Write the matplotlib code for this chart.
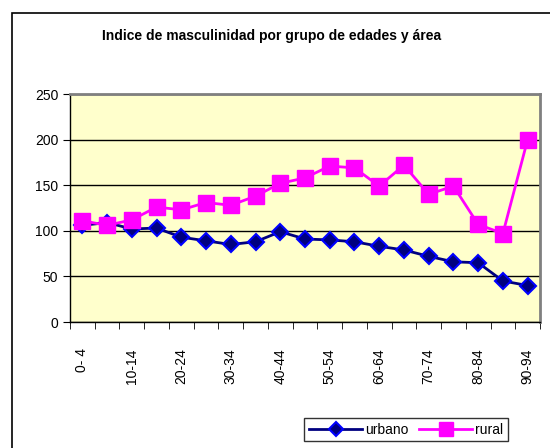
import numpy as np
import matplotlib.pyplot as plt
from matplotlib.patches import Rectangle

plt.rcParams['font.family'] = ['Liberation Sans', 'DejaVu Sans']

# grupos de edades
grupos = ['0- 4', '5- 9', '10-14', '15-19', '20-24', '25-29', '30-34', '35-39',
          '40-44', '45-49', '50-54', '55-59', '60-64', '65-69', '70-74',
          '75-79', '80-84', '85-89', '90-94']

# indice de masculinidad por area
urbano = [106, 109, 102, 103, 93, 89, 85, 88, 99, 91, 90, 88, 83, 79, 72, 66, 65, 45, 40]
rural = [111, 106, 112, 126, 123, 131, 128, 138, 152, 158, 171, 169, 149, 172, 140, 149, 107, 97, 200]

y_ticks = [0, 50, 100, 150, 200, 250]

fig = plt.figure(figsize=(5.5, 4.48), dpi=100)

# borde del area del grafico
fig.patches.append(Rectangle((12 / 550, -0.05), 1.1, (448 - 13) / 448 + 0.05,
                             transform=fig.transFigure, fill=False,
                             edgecolor='black', linewidth=1.2))

ax = fig.add_axes([70 / 550, (448 - 322) / 448, 470 / 550, 228 / 448])
ax.set_facecolor('#FFFFCC')

x = np.arange(len(grupos))
ax.plot(x, urbano, color='#000080', linewidth=2, marker='D', markersize=8,
        markerfacecolor='#000080', markeredgecolor='#0000FF', markeredgewidth=1.5,
        label='urbano', zorder=3)
ax.plot(x, rural, color='#FF00FF', linewidth=2, marker='s', markersize=11,
        markerfacecolor='#FF00FF', markeredgecolor='#FF00FF',
        label='rural', zorder=4)

ax.set_xlim(-0.5, len(grupos) - 0.5)
ax.set_ylim(0, 250)
ax.set_yticks(y_ticks)
ax.yaxis.grid(True, color='black', linewidth=1)
ax.set_axisbelow(True)

# etiquetas cada dos grupos, marcas entre categorias
ax.set_xticks(x[::2])
ax.set_xticklabels(grupos[::2], rotation=90, fontsize=10)
ax.set_xticks(np.arange(-0.5, len(grupos)), minor=True)
ax.tick_params(axis='x', which='major', length=0, pad=19)
ax.tick_params(axis='x', which='minor', length=5, direction='out', color='black')
ax.tick_params(axis='y', labelsize=10, length=5, direction='out', color='black')

for side in ['top', 'right']:
    ax.spines[side].set_color('#808080')
    ax.spines[side].set_linewidth(2)
for side in ['left', 'bottom']:
    ax.spines[side].set_color('black')
    ax.spines[side].set_linewidth(1)

fig.text(272 / 550, 1 - 36 / 448, 'Indice de masculinidad por grupo de edades y área',
         ha='center', va='center', fontsize=10, fontweight='bold')

leg = fig.legend(loc='center', bbox_to_anchor=(406 / 550, 1 - 429.5 / 448), ncol=2,
                 fontsize=10, frameon=True, fancybox=False, edgecolor='black',
                 handlelength=3.8, handletextpad=0.2, columnspacing=0.8,
                 borderpad=0.35, markerscale=0.9)
leg.get_frame().set_linewidth(1)

fig.savefig('out.png', dpi=100)
